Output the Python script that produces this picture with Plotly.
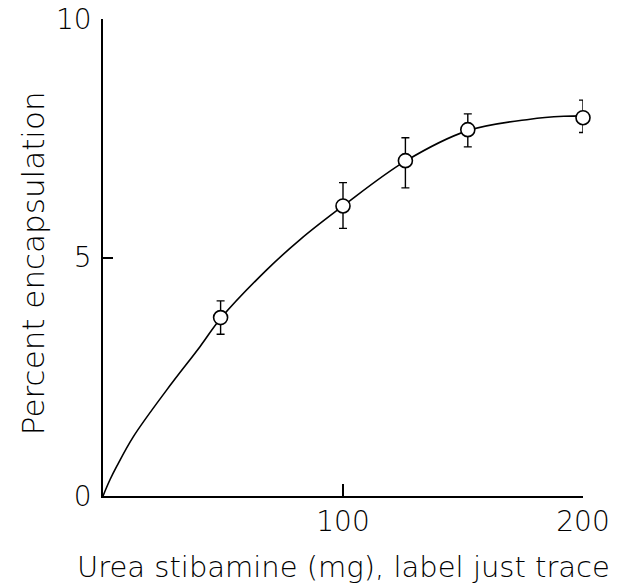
import plotly.graph_objects as go

# measured data points
dose_mg = [49, 100, 126, 152, 200]
encap_pct = [3.74, 6.08, 7.03, 7.68, 7.93]
err_plus = [0.35, 0.49, 0.48, 0.33, 0.37]
err_minus = [0.35, 0.47, 0.57, 0.36, 0.31]

# fitted curve
curve_x = [0, 2.9, 5.7, 12.6, 26.5, 40.4, 49, 68.2, 82, 100, 126, 152, 178, 192, 200]
curve_y = [0, 0.34, 0.62, 1.24, 2.22, 3.13, 3.72, 4.74, 5.37, 6.08, 7.02, 7.66, 7.90, 7.96, 7.97]

x_ticks = [100, 200]
x_tick_labels = ["100", "200"]
y_ticks = [0, 5, 10]
y_tick_labels = ["0", "5", "10"]

x_title = "Urea stibamine (mg), label just trace"
y_title = "Percent encapsulation"

FONT = "DejaVu Sans"

fig = go.Figure()
fig.add_trace(go.Scatter(
    x=curve_x, y=curve_y, mode="lines",
    line=dict(color="black", width=1.6, shape="spline", smoothing=1.0),
    hoverinfo="skip", showlegend=False, cliponaxis=False,
))
fig.add_trace(go.Scatter(
    x=dose_mg, y=encap_pct, mode="markers",
    marker=dict(symbol="circle", size=14, color="white",
                line=dict(color="black", width=1.6)),
    error_y=dict(type="data", symmetric=False, array=err_plus, arrayminus=err_minus,
                 color="black", thickness=1.4, width=4),
    showlegend=False, cliponaxis=False,
))

fig.update_layout(
    width=621, height=583,
    margin=dict(l=103, r=38, t=19, b=87),
    paper_bgcolor="white", plot_bgcolor="white",
    font=dict(family=FONT, color="black", size=28),
    xaxis=dict(
        range=[0, 200], showgrid=False, zeroline=False, automargin=False,
        showline=True, linecolor="black", linewidth=1.6,
        tickmode="array", tickvals=x_ticks, ticktext=x_tick_labels,
        ticks="inside", ticklen=12, tickwidth=1.6, tickcolor="black",
        ticklabeloverflow="allow",
        tickfont=dict(family=FONT, size=28, weight=300, color="black"),
    ),
    yaxis=dict(
        range=[0, 10], showgrid=False, zeroline=False, automargin=False,
        showline=True, linecolor="black", linewidth=1.6,
        tickmode="array", tickvals=y_ticks, ticktext=y_tick_labels,
        ticks="inside", ticklen=10, tickwidth=1.6, tickcolor="black",
        ticklabelstandoff=4, ticklabeloverflow="allow",
        tickfont=dict(family=FONT, size=28, weight=300, color="black"),
    ),
    annotations=[
        dict(text=x_title, xref="paper", yref="paper", x=0.5, y=-0.149,
             xanchor="center", yanchor="middle", showarrow=False,
             font=dict(family=FONT, size=29, weight=300, color="black")),
        dict(text=y_title, xref="paper", yref="paper", x=-0.146, y=0.488,
             xanchor="center", yanchor="middle", showarrow=False, textangle=-90,
             font=dict(family=FONT, size=31, weight=300, color="black")),
    ],
)

fig.write_html("out.html", config={"displayModeBar": False},
               post_script="document.body.style.margin='0';")
